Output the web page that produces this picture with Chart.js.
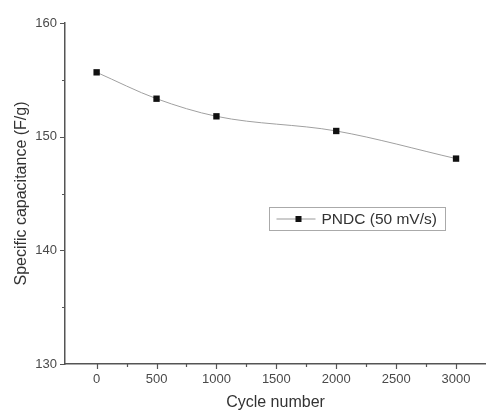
<!DOCTYPE html>
<html>
<head>
<meta charset="utf-8">
<script src="https://cdn.jsdelivr.net/npm/chart.js@4.4.0/dist/chart.umd.min.js"></script>
<style>
  html, body { margin: 0; padding: 0; background: #fff; }
  #wrap { width: 486px; height: 412px; }
</style>
</head>
<body>
<div id="wrap"><canvas id="chart" width="486" height="412"></canvas></div>
<script>
// data
const cycles = [0, 500, 1000, 2000, 3000];
const capacitance = [155.66, 153.34, 151.79, 150.5, 148.07];
const xMajorTicks = [0, 500, 1000, 1500, 2000, 2500, 3000];
const xMinorTicks = [250, 750, 1250, 1750, 2250, 2750];
const yMajorTicks = [130, 140, 150, 160];
const yMinorTicks = [135, 145, 155];
const seriesLabel = 'PNDC (50 mV/s)';

const axisColor = '#555';
const textColor = '#4a4a4a';
const fontFamily = '"Liberation Sans", Arial, sans-serif';

// draws major/minor tick marks pointing outwards, plus the boxed legend
const decorations = {
    id: 'decorations',
    afterDraw(chart) {
        const ctx = chart.ctx;
        const x = chart.scales.x;
        const y = chart.scales.y;
        const area = chart.chartArea;
        ctx.save();
        ctx.strokeStyle = axisColor;
        ctx.lineWidth = 1.2;
        ctx.beginPath();
        xMajorTicks.forEach(v => {
            const px = Math.round(x.getPixelForValue(v)) + 0.5;
            ctx.moveTo(px, area.bottom);
            ctx.lineTo(px, area.bottom + 5);
        });
        xMinorTicks.forEach(v => {
            const px = Math.round(x.getPixelForValue(v)) + 0.5;
            ctx.moveTo(px, area.bottom);
            ctx.lineTo(px, area.bottom + 3);
        });
        yMajorTicks.forEach(v => {
            const py = Math.round(y.getPixelForValue(v)) + 0.5;
            ctx.moveTo(area.left, py);
            ctx.lineTo(area.left - 5, py);
        });
        yMinorTicks.forEach(v => {
            const py = Math.round(y.getPixelForValue(v)) + 0.5;
            ctx.moveTo(area.left, py);
            ctx.lineTo(area.left - 3, py);
        });
        ctx.stroke();

        // legend box
        const bx = area.left + 204.5, by = 207.5, bw = 176, bh = 23;
        ctx.strokeStyle = '#aaa';
        ctx.lineWidth = 1;
        ctx.strokeRect(bx, by, bw, bh);
        ctx.strokeStyle = '#999';
        ctx.beginPath();
        ctx.moveTo(bx + 7, by + bh / 2);
        ctx.lineTo(bx + 46, by + bh / 2);
        ctx.stroke();
        ctx.fillStyle = '#111';
        ctx.fillRect(bx + 26, by + bh / 2 - 3, 6, 6);
        ctx.fillStyle = '#333';
        ctx.font = '15.5px ' + fontFamily;
        ctx.textBaseline = 'middle';
        ctx.fillText(seriesLabel, bx + 52, by + bh / 2 + 1);
        ctx.restore();
    }
};

const ctx = document.getElementById('chart').getContext('2d');
new Chart(ctx, {
    type: 'line',
    data: {
        datasets: [{
            label: seriesLabel,
            data: cycles.map((c, i) => ({ x: c, y: capacitance[i] })),
            borderColor: '#a0a0a0',
            borderWidth: 1,
            tension: 0.4,
            cubicInterpolationMode: 'monotone',
            pointStyle: 'rect',
            pointRadius: 4.5,
            pointBackgroundColor: '#111',
            pointBorderColor: '#111',
            pointBorderWidth: 0
        }]
    },
    options: {
        responsive: false,
        animation: false,
        layout: { autoPadding: false, padding: { top: 23, right: 0, left: 0, bottom: 0 } },
        plugins: {
            legend: { display: false },
            tooltip: { enabled: false }
        },
        scales: {
            x: {
                type: 'linear',
                min: -264,
                max: 3250,
                afterBuildTicks: scale => { scale.ticks = xMajorTicks.map(v => ({ value: v })); },
                afterFit: scale => {
                    scale.height = 48;
                    scale.paddingLeft = 0;
                    scale.paddingRight = 0;
                },
                grid: { display: false, drawTicks: false },
                border: { display: true, color: axisColor, width: 1.5 },
                ticks: {
                    padding: 8,
                    color: textColor,
                    callback: v => String(v),
                    font: { family: fontFamily, size: 13 }
                },
                title: {
                    display: true,
                    text: 'Cycle number',
                    color: '#333',
                    padding: { top: 0, bottom: 0 },
                    font: { family: fontFamily, size: 16 }
                }
            },
            y: {
                min: 130,
                max: 160,
                afterBuildTicks: scale => { scale.ticks = yMajorTicks.map(v => ({ value: v })); },
                afterFit: scale => {
                    scale.width = 65;
                    scale.paddingTop = 0;
                    scale.paddingBottom = 0;
                },
                grid: { display: false, drawTicks: false },
                border: { display: true, color: axisColor, width: 1.5 },
                ticks: {
                    padding: 8,
                    color: textColor,
                    callback: v => String(v),
                    font: { family: fontFamily, size: 13 }
                },
                title: {
                    display: true,
                    text: 'Specific capacitance (F/g)',
                    color: '#333',
                    padding: { top: 12, bottom: 0 },
                    font: { family: fontFamily, size: 16 }
                }
            }
        }
    },
    plugins: [decorations]
});
</script>
</body>
</html>
